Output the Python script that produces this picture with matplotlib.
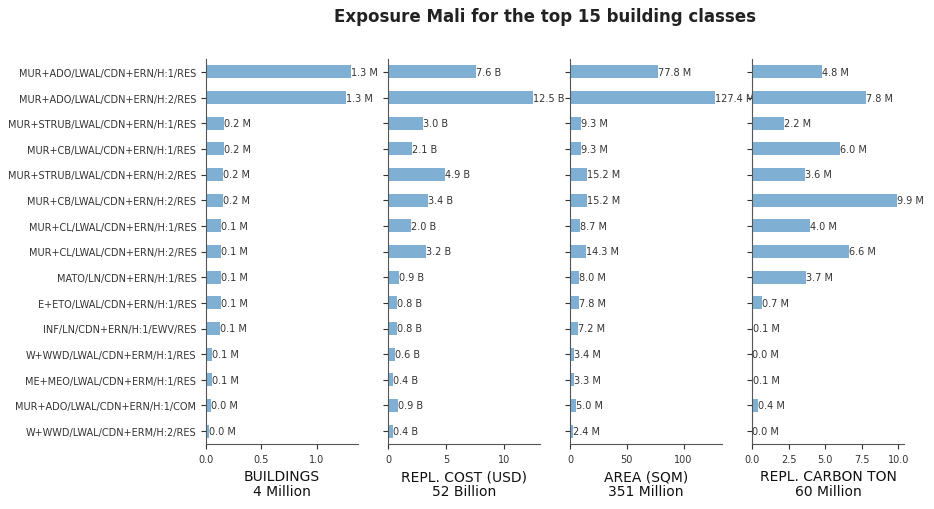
import numpy as np
import matplotlib
matplotlib.use("Agg")
import matplotlib.pyplot as plt

classes = [
    "MUR+ADO/LWAL/CDN+ERN/H:1/RES",
    "MUR+ADO/LWAL/CDN+ERN/H:2/RES",
    "MUR+STRUB/LWAL/CDN+ERN/H:1/RES",
    "MUR+CB/LWAL/CDN+ERN/H:1/RES",
    "MUR+STRUB/LWAL/CDN+ERN/H:2/RES",
    "MUR+CB/LWAL/CDN+ERN/H:2/RES",
    "MUR+CL/LWAL/CDN+ERN/H:1/RES",
    "MUR+CL/LWAL/CDN+ERN/H:2/RES",
    "MATO/LN/CDN+ERN/H:1/RES",
    "E+ETO/LWAL/CDN+ERN/H:1/RES",
    "INF/LN/CDN+ERN/H:1/EWV/RES",
    "W+WWD/LWAL/CDN+ERM/H:1/RES",
    "ME+MEO/LWAL/CDN+ERM/H:1/RES",
    "MUR+ADO/LWAL/CDN+ERN/H:1/COM",
    "W+WWD/LWAL/CDN+ERM/H:2/RES",
]

# millions of buildings
buildings = [1.31, 1.27, 0.165, 0.16, 0.155, 0.155, 0.14, 0.14, 0.135, 0.135,
             0.125, 0.056, 0.056, 0.045, 0.025]
# billions USD
cost = [7.62, 12.5, 3.01, 2.06, 4.93, 3.44, 1.98, 3.24, 0.93, 0.78,
        0.78, 0.59, 0.42, 0.87, 0.41]
# millions sqm
area = [77.8, 127.4, 9.3, 9.3, 15.2, 15.2, 8.7, 14.3, 8.0, 7.8,
        7.2, 3.4, 3.3, 5.0, 2.4]
# millions ton
carbon = [4.8, 7.8, 2.2, 6.0, 3.6, 9.9, 4.0, 6.6, 3.7, 0.7,
          0.08, 0.03, 0.08, 0.4, 0.02]

panels = [
    (buildings, "M", "BUILDINGS\n4 Million"),
    (cost, "B", "REPL. COST (USD)\n52 Billion"),
    (area, "M", "AREA (SQM)\n351 Million"),
    (carbon, "M", "REPL. CARBON TON\n60 Million"),
]

fig = plt.figure(figsize=(9.34, 5.10), dpi=100)
fig.suptitle("Exposure Mali for the top 15 building classes",
             fontsize=12, fontweight="bold", x=0.583, y=0.985, color="#222222")

y = np.arange(len(classes))
left0 = 206 / 934
w = 152 / 934
step = 182 / 934
bottom = 1 - 445 / 510
height = (445 - 60) / 510

for i, (vals, unit, label) in enumerate(panels):
    ax = fig.add_axes([left0 + i * step, bottom, w, height])
    ax.barh(y, vals, height=0.5, color="#7fb0d4")
    ax.set_ylim(len(classes) - 0.5, -0.5)
    vmax = max(vals)
    ax.set_xlim(0, vmax * 1.05)
    for yi, v in zip(y, vals):
        ax.text(v, yi, f"{v:.1f} {unit}", va="center", ha="left",
                fontsize=7, color="#333333")
    ax.set_yticks(y)
    if i == 0:
        ax.set_yticklabels(classes, fontsize=7, color="#333333")
    else:
        ax.set_yticklabels([])
    ax.tick_params(axis="x", labelsize=7, colors="#333333", length=3.5)
    ax.tick_params(axis="y", length=3.5, colors="#333333")
    ax.spines["top"].set_visible(False)
    ax.spines["right"].set_visible(False)
    ax.spines["left"].set_color("#555555")
    ax.spines["bottom"].set_color("#555555")
    ax.set_xlabel(label, fontsize=10, color="#111111", linespacing=1.1)

fig.savefig("out.png", dpi=100)
